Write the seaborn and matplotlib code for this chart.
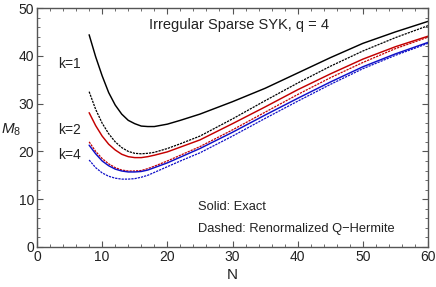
import seaborn as sns
import matplotlib
matplotlib.use("Agg")
import matplotlib.pyplot as plt
from matplotlib.ticker import MultipleLocator
import pandas as pd

N = [8, 9, 10, 11, 12, 13, 14, 15, 16, 17, 18, 20, 22, 25, 30, 35, 40, 45, 50, 55, 60]

# k=1 (black)
k1_exact = [44.4, 39.8, 35.8, 32.3, 29.7, 27.8, 26.5, 25.8, 25.3, 25.2, 25.2, 25.7, 26.5, 27.8, 30.4, 33.2, 36.4, 39.6, 42.6, 45.0, 47.2]
k1_qh = [32.5, 28.8, 25.9, 23.7, 22.0, 20.8, 20.0, 19.6, 19.5, 19.6, 19.8, 20.6, 21.6, 23.2, 26.8, 30.6, 34.3, 37.8, 41.0, 43.8, 46.3]
# k=2 (red)
k2_exact = [28.1, 25.4, 23.2, 21.5, 20.3, 19.4, 18.9, 18.7, 18.7, 18.9, 19.2, 19.9, 20.9, 22.4, 25.8, 29.3, 32.9, 36.2, 39.3, 41.9, 44.1]
k2_qh = [22.0, 20.0, 18.5, 17.4, 16.6, 16.1, 15.9, 15.9, 16.0, 16.4, 16.9, 18.0, 19.2, 21.0, 24.5, 28.2, 31.9, 35.4, 38.6, 41.5, 43.9]
# k=4 (blue)
k4_exact = [21.3, 19.5, 18.0, 17.0, 16.3, 15.9, 15.7, 15.7, 15.8, 16.1, 16.6, 17.6, 18.8, 20.6, 24.0, 27.6, 31.1, 34.5, 37.7, 40.4, 42.8]
k4_qh = [18.2, 16.6, 15.5, 14.8, 14.4, 14.2, 14.2, 14.3, 14.6, 15.0, 15.6, 16.8, 18.0, 19.7, 23.2, 26.9, 30.5, 34.0, 37.3, 40.1, 42.6]

series = [
    (k1_exact, "black", False),
    (k1_qh, "black", True),
    (k2_exact, "#c40000", False),
    (k2_qh, "#c40000", True),
    (k4_exact, "#1010c8", False),
    (k4_qh, "#1010c8", True),
]

sns.set_style("ticks")
plt.rcParams['font.family'] = ['Liberation Sans', 'DejaVu Sans']
plt.rcParams['mathtext.fontset'] = 'custom'
plt.rcParams['mathtext.it'] = 'Liberation Sans:italic'
plt.rcParams['mathtext.rm'] = 'Liberation Sans'

fig = plt.figure(figsize=(4.36, 2.87), dpi=100)
ax = fig.add_axes([37 / 436, 1 - 247 / 287, (428 - 37) / 436, (247 - 8) / 287])

for vals, color, dashed in series:
    df = pd.DataFrame({"N": N, "M8": vals})
    sns.lineplot(data=df, x="N", y="M8", ax=ax, color=color, lw=1.05 if not dashed else 0.9)
    if dashed:
        ax.lines[-1].set_dashes([1.8, 0.8])

ax.set_xlim(0, 60)
ax.set_ylim(0, 50)
ax.xaxis.set_major_locator(MultipleLocator(10))
ax.xaxis.set_minor_locator(MultipleLocator(2))
ax.yaxis.set_major_locator(MultipleLocator(10))
ax.yaxis.set_minor_locator(MultipleLocator(2))
ax.tick_params(which='both', direction='in', top=True, right=True, colors='#555555',
               labelcolor='#222222', labelsize=10, pad=2)
ax.tick_params(which='major', length=4, width=0.8)
ax.tick_params(which='minor', length=2, width=0.6)
for s in ax.spines.values():
    s.set_color('#555555')
    s.set_linewidth(1.0)

ax.set_xlabel("N", fontsize=11, color='#222222', labelpad=3)
ax.set_ylabel(r"$M_8$", fontsize=11, rotation=0, color='#222222', va='center')
ax.yaxis.set_label_coords(-0.065, 0.49)

ax.text(17.2, 46.4, "Irregular Sparse SYK, q = 4", fontsize=10.5, va='center', color='#222222')
ax.text(3.2, 38.3, "k=1", fontsize=10, va='center', color='#222222')
ax.text(3.2, 24.5, "k=2", fontsize=10, va='center', color='#222222')
ax.text(3.2, 19.2, "k=4", fontsize=10, va='center', color='#222222')
ax.text(24.7, 8.4, "Solid: Exact", fontsize=9.3, va='center', color='#222222')
ax.text(24.7, 3.8, "Dashed: Renormalized Q\u2212Hermite", fontsize=9.3, va='center', color='#222222')

fig.savefig("out.png", dpi=100)
